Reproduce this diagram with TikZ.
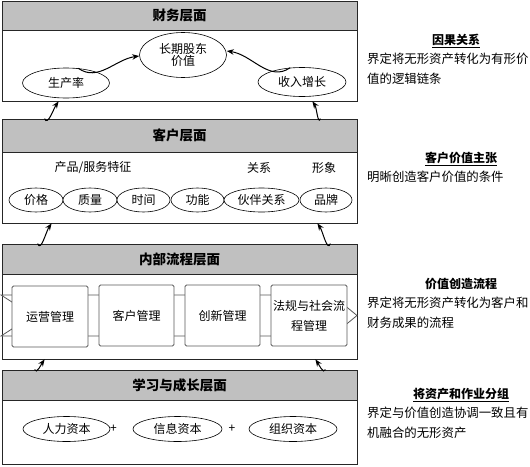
\documentclass[tikz,border=0pt]{standalone}
\usepackage{fontspec}
\setmainfont{Noto Sans CJK SC}
\usetikzlibrary{arrows.meta,shapes.geometric,calc}
\definecolor{hdrgray}{HTML}{C0C0C0}
\definecolor{boxgray}{HTML}{595959}
\begin{document}
\begin{tikzpicture}[x=1pt,y=-1pt,
  layer/.style={draw=black!85, line width=0.8pt, minimum width=355pt, inner sep=0pt, fill=white},
  hdr/.style={draw=black!85, line width=0.8pt, fill=hdrgray, minimum width=355pt, inner sep=0pt,
    font=\bfseries\fontsize{13.5}{16}\selectfont},
  ell/.style={ellipse, draw=black, line width=0.6pt, inner sep=0pt, fill=white,
    font=\fontsize{12}{14}\selectfont, align=center},
  pbox/.style={draw=boxgray, line width=0.8pt, rounded corners=1.5pt, fill=white, inner sep=0pt,
    font=\fontsize{12}{20}\selectfont, align=center},
  lbl/.style={inner sep=0pt, font=\fontsize{12}{14}\selectfont},
  ttl/.style={inner sep=0pt, font=\bfseries\fontsize{12}{14}\selectfont},
  desc/.style={inner sep=0pt, font=\fontsize{12.4}{20}\selectfont, align=left, anchor=north west},
  arr/.style={-{Stealth[length=7pt,width=5.5pt]}, line width=1pt}
]
\useasboundingbox (0,0) rectangle (530,466);
\fill[white] (0,0) rectangle (530,466);

% ---------- Layer 1 : finance
\node[layer, minimum height=100pt] (fin) at (179.5,51) {};
\node[hdr, minimum height=29pt] (finh) at (179.5,15.5) {财务层面};
\node[ell, minimum width=87pt, minimum height=45pt] (ltv) at (183,55) {长期股东\\[-2pt]价值};
\node[ell, minimum width=87pt, minimum height=30pt] (prod) at (66,83) {生产率};
\node[ell, minimum width=88pt, minimum height=29pt] (rev) at (302,82) {收入增长};
\draw[arr] (prod.50) to[out=-35,in=188] (ltv.west |- 0,56);
\draw[arr] (rev.130) to[out=-145,in=-8] (ltv.east |- 0,51);

% ---------- Layer 2 : customer
\node[layer, minimum height=104pt] (cus) at (179.5,171) {};
\node[hdr, minimum height=33pt] (cush) at (179.5,135.5) {客户层面};
\node[lbl] (pf) at (93,168) {产品/服务特征};
\node[lbl] (rel) at (259,168) {关系};
\node[lbl] (img) at (324,168) {形象};
\node[ell, minimum width=54pt, minimum height=24pt] (c1) at (36,200) {价格};
\node[ell, minimum width=54pt, minimum height=24pt] (c2) at (90,200) {质量};
\node[ell, minimum width=53pt, minimum height=24pt] (c3) at (143.5,200) {时间};
\node[ell, minimum width=53pt, minimum height=24pt] (c4) at (197.5,200) {功能};
\node[ell, minimum width=75pt, minimum height=24pt] (c5) at (261.5,200) {伙伴关系};
\node[ell, minimum width=52pt, minimum height=24pt] (c6) at (326,200) {品牌};

% ---------- Layer 3 : internal process
\node[layer, minimum height=115pt] (proc) at (179.5,301.5) {};
\node[hdr, minimum height=30pt] (proch) at (179.5,259) {内部流程层面};
\draw[boxgray, line width=0.8pt, fill=white]
  (1,295) -- (332,295) -- (357,315.5) -- (332,336) -- (1,336) -- (33,315.5) -- cycle;
\node[pbox, minimum width=76pt, minimum height=61pt] (p1) at (50,316.5) {运营管理};
\node[pbox, minimum width=75pt, minimum height=61pt] (p2) at (136.5,315.5) {客户管理};
\node[pbox, minimum width=75pt, minimum height=61pt] (p3) at (222.5,315.5) {创新管理};
\node[pbox, minimum width=76pt, minimum height=61pt, text width=76pt] (p4) at (309,315.5) {法规与社会流\\程管理};

% ---------- Layer 4 : learning
\node[layer, minimum height=94pt] (lrn) at (179.5,417) {};
\node[hdr, minimum height=30pt] (lrnh) at (179.5,385) {学习与成长层面};
\node[ell, minimum width=87pt, minimum height=25pt] (l1) at (66.5,429) {人力资本};
\node[lbl] (plus1) at (113.5,429) {+};
\node[ell, minimum width=89pt, minimum height=25pt] (l2) at (177.5,429) {信息资本};
\node[lbl] (plus2) at (232,429) {+};
\node[ell, minimum width=88pt, minimum height=25pt] (l3) at (293,429) {组织资本};

% ---------- inter-layer arrows
\draw[arr] ([xshift=43pt]cus.north west) to[out=-70,in=235] ([xshift=57pt]fin.south west);
\draw[arr] ([xshift=-37pt]cus.north east) to[out=-110,in=-55] ([xshift=-45pt]fin.south east);
\draw[arr] ([xshift=36pt]proc.north west) to[out=-70,in=235] ([xshift=50pt]cus.south west);
\draw[arr] ([xshift=-27pt]proc.north east) to[out=-110,in=-55] ([xshift=-40pt]cus.south east);
\draw[arr] ([xshift=33pt]lrn.north west) to[out=-70,in=235] ([xshift=43pt]proc.south west);
\draw[arr] ([xshift=-32pt]lrn.north east) to[out=-110,in=-55] ([xshift=-42pt]proc.south east);

% ---------- right-hand descriptions
\node[ttl] (t1) at (456,41) {\underline{因果关系}};
\node[desc] (d1) at (367,53) {界定将无形资产转化为有形价\\值的逻辑链条};
\node[ttl] (t2) at (461,159) {\underline{客户价值主张}};
\node[desc] (d2) at (367,171) {明晰创造客户价值的条件};
\node[ttl] (t3) at (461,284) {价值创造流程};
\node[desc] (d3) at (367,297) {界定将无形资产转化为客户和\\财务成果的流程};
\node[ttl] (t4) at (461,395) {\underline{将资产和作业分组}};
\node[desc] (d4) at (367,407) {界定与价值创造协调一致且有\\机融合的无形资产};
\end{tikzpicture}
\end{document}
